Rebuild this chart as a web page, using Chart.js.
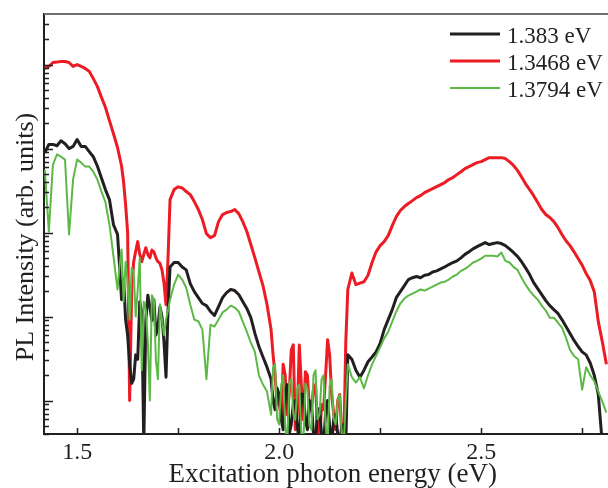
<!DOCTYPE html>
<html>
<head>
<meta charset="utf-8">
<title>PL Intensity</title>
<script src="https://cdn.jsdelivr.net/npm/chart.js@4.4.1/dist/chart.umd.min.js"></script>
<style>
  body { margin: 0; background: #fff; }
  canvas { display: block; }
</style>
</head>
<body>
<canvas id="grafico" width="608" height="488"></canvas>
<script>
// Energía de excitación (eV), común a las tres series.
// Paso más fino en las zonas ruidosas.
const energias = [
  1.42, 1.43, 1.44, 1.45, 1.46, 1.47, 1.48, 1.49, 1.50, 1.51,
  1.52, 1.53, 1.54, 1.55, 1.56, 1.57, 1.58, 1.59,
  1.60, 1.605, 1.61, 1.615, 1.62, 1.625, 1.63, 1.635, 1.64, 1.645,
  1.65, 1.655, 1.66, 1.665, 1.67, 1.675, 1.68, 1.685, 1.69, 1.695,
  1.70, 1.705, 1.71, 1.715, 1.72, 1.725,
  1.73, 1.74, 1.75, 1.76, 1.77, 1.78, 1.79, 1.80, 1.81,
  1.82, 1.83, 1.84, 1.85, 1.86, 1.87, 1.88, 1.89, 1.90, 1.91,
  1.92, 1.93, 1.94, 1.95, 1.96, 1.97,
  1.98, 1.985, 1.99, 1.995, 2.00, 2.005, 2.01, 2.015, 2.02, 2.025,
  2.03, 2.035, 2.04, 2.045, 2.05, 2.055, 2.06, 2.065, 2.07, 2.075,
  2.08, 2.085, 2.09, 2.095, 2.10, 2.105, 2.11, 2.115, 2.12, 2.125,
  2.13, 2.135, 2.14, 2.145, 2.15, 2.155, 2.16, 2.165,
  2.17, 2.18, 2.19, 2.20, 2.21,
  2.22, 2.23, 2.24, 2.25, 2.26, 2.27, 2.28, 2.29, 2.30, 2.31,
  2.32, 2.33, 2.34, 2.35, 2.36, 2.37, 2.38, 2.39, 2.40, 2.41,
  2.42, 2.43, 2.44, 2.45, 2.46, 2.47, 2.48, 2.49, 2.50, 2.51,
  2.52, 2.53, 2.54, 2.55, 2.56, 2.57, 2.58, 2.59, 2.60, 2.61,
  2.62, 2.63, 2.64, 2.65, 2.66, 2.67, 2.68, 2.69, 2.70, 2.71,
  2.72, 2.73, 2.74, 2.75, 2.76, 2.77, 2.78, 2.79, 2.80, 2.81
];

// Intensidad PL detectada a 1.383 eV
const pl1383 = [
  89, 112, 112, 108, 124, 114, 100, 106, 128, 106,
  106, 92, 80, 62, 45, 32.5, 24.7, 12.4,
  9.5, 4.0, 1.59, 2.8, 0.92, 0.6, 0.27, 0.16, 0.18, 0.35,
  0.31, 1.5, 1.12, 0.03, 0.9, 1.8, 1.31, 0.9, 1.59, 0.6,
  0.76, 1.3, 1.0, 0.5, 0.19, 1.2,
  3.9, 4.4, 4.4, 3.9, 3.6, 2.47, 1.98, 1.68, 1.43,
  1.35, 1.15, 1.03, 1.31, 1.68, 1.93, 2.1, 2.04, 1.83, 1.51,
  1.25, 0.97, 0.63, 0.44, 0.33, 0.25,
  0.18, 0.1, 0.078, 0.14, 0.118, 0.06, 0.045, 0.13, 0.155, 0.04,
  0.052, 0.09, 0.1, 0.05, 0.03, 0.12, 0.118, 0.06, 0.045, 0.1,
  0.09, 0.04, 0.03, 0.08, 0.078, 0.04, 0.03, 0.07, 0.1, 0.05,
  0.03, 0.06, 0.068, 0.04, 0.03, 0.05, 0.052, 0.03,
  0.35, 0.31, 0.23, 0.19, 0.23,
  0.29, 0.33, 0.38, 0.48, 0.7, 0.92, 1.21, 1.68, 1.98, 2.34,
  2.76, 2.9, 3.0, 2.9, 3.1, 3.16, 3.4, 3.5, 3.7, 3.9,
  4.16, 4.4, 4.6, 5.0, 5.5, 5.9, 6.4, 6.8, 7.2, 7.6,
  7.2, 7.4, 7.6, 7.4, 7.0, 6.4, 5.8, 5.2, 4.5, 3.8,
  3.16, 2.54, 2.15, 1.83, 1.55, 1.35, 1.21, 1.09, 0.92, 0.76,
  0.63, 0.52, 0.44, 0.38, 0.35, 0.28, 0.2, 0.118, 0.03, 0.03
];

// Intensidad PL detectada a 1.3468 eV
const pl13468 = [
  900, 950, 1060, 1070, 1090, 1090, 1060, 950, 1000, 950,
  900, 830, 680, 550, 410, 310, 215, 150,
  103, 80, 62, 40, 21.5, 10, 0.1, 2.0, 4.5, 6,
  7.8, 5.5, 4.5, 5.5, 6.6, 5.5, 5.0, 6.2, 5.9, 5.0,
  4.5, 4.3, 3.6, 2.5, 1.39, 5,
  24.7, 32.5, 35, 34, 30.8, 28.3, 23.4, 18.8, 14.3,
  9.7, 8.7, 9.2, 13.5, 16.4, 17.3, 17.8, 18.8, 16.8, 13.5,
  10.3, 7.2, 5.0, 3.4, 2.34, 1.39,
  0.7, 0.35, 0.2, 0.09, 0.1, 0.06, 0.27, 0.2, 0.068, 0.12,
  0.4, 0.46, 0.045, 0.07, 0.46, 0.15, 0.059, 0.22, 0.2, 0.08,
  0.078, 0.14, 0.155, 0.05, 0.03, 0.09, 0.078, 0.2, 0.53, 0.35,
  0.118, 0.07, 0.045, 0.1, 0.118, 0.04, 0.03, 0.5,
  2.1, 3.3, 2.4, 2.5, 2.6,
  3.1, 4.4, 5.9, 7.0, 7.8, 9.2, 12.1, 15.5, 18.3, 20.4,
  22.2, 24, 26.1, 27.5, 29.9, 31.6, 33.4, 35.3, 37.3, 39.4,
  42.8, 45.2, 49, 53, 57.8, 61, 64.5, 68, 70, 74,
  78, 78, 78, 78, 76, 70, 63, 55, 46, 38,
  32.5, 27.5, 22.8, 18.8, 16.4, 15.1, 13.5, 11.5, 9.5, 8.0,
  7.0, 5.9, 4.9, 4.1, 3.25, 2.68, 1.98, 0.87, 0.5, 0.27
];

// Intensidad PL detectada a 1.3794 eV
const pl13794 = [
  56, 10.3, 64, 85, 80, 74, 9.5, 43, 74, 68,
  61, 61, 53, 43, 31, 23, 12.4, 5.2,
  2.1, 4, 6.3, 1.5, 4.5, 2.5, 0.92, 3.8, 3.4, 1.0,
  2.1, 5.0, 0.23, 1.5, 1.21, 0.5, 0.1, 1.8, 1.59, 0.3,
  0.18, 1.4, 0.92, 0.6, 0.92, 1.2,
  1.59, 2.4, 3.16, 2.76, 2.2, 1.39, 0.92, 0.88, 0.7,
  0.18, 0.8, 0.76, 0.92, 1.12, 1.21, 1.35, 1.28, 1.15, 0.87,
  0.66, 0.49, 0.38, 0.2, 0.155, 0.128,
  0.068, 0.25, 0.27, 0.06, 0.052, 0.15, 0.2, 0.05, 0.03, 0.16,
  0.18, 0.07, 0.059, 0.14, 0.155, 0.04, 0.03, 0.16, 0.135, 0.05,
  0.045, 0.2, 0.23, 0.06, 0.068, 0.18, 0.2, 0.05, 0.03, 0.15,
  0.18, 0.06, 0.052, 0.1, 0.118, 0.04, 0.03, 0.1,
  0.27, 0.19, 0.164, 0.19, 0.14,
  0.2, 0.27, 0.34, 0.43, 0.55, 0.66, 0.87, 1.15, 1.43, 1.64,
  1.78, 1.88, 1.98, 2.1, 2.04, 2.15, 2.27, 2.4, 2.54, 2.6,
  2.76, 3.0, 3.16, 3.5, 3.7, 4.0, 4.4, 4.6, 4.9, 5.3,
  5.3, 5.3, 5.2, 5.8, 4.6, 4.4, 3.9, 3.6, 2.9, 2.4,
  2.04, 1.78, 1.59, 1.35, 1.18, 0.97, 0.97, 0.85, 0.74, 0.56,
  0.4, 0.34, 0.31, 0.135, 0.25, 0.2, 0.17, 0.128, 0.097, 0.072
];

const leyendas = ['1.383 eV', '1.3468 eV', '1.3794 eV'];
const colores = ['#231f20', '#ed1c24', '#5cb946'];

// Marcas del eje X y sus etiquetas
const marcasX = [1.5, 1.75, 2.0, 2.25, 2.5, 2.75];
const etiquetasX = ['1.5', '', '2.0', '', '2.5', ''];

// Marcas del eje Y (log): décadas largas, intermedias cortas
const decadasY = [0.1, 1, 10, 100, 1000];
const marcasY = [];
[0.01, 0.1, 1, 10, 100, 1000].forEach(d => {
  for (let k = 1; k <= 9; k++) {
    const v = +(d * k).toPrecision(2);
    if (v >= 0.04 && v < 4000) marcasY.push(v);
  }
});

const fuente = "'Liberation Serif', 'DejaVu Serif', serif";

function serie(valores) {
  return valores.map((v, i) => ({ x: energias[i], y: v }));
}

// Dibuja marcas hacia dentro, borde superior y leyenda
const adornos = {
  id: 'adornos',
  afterDraw(chart) {
    const { ctx, chartArea: a, scales: { x, y } } = chart;
    ctx.save();
    ctx.strokeStyle = '#231f20';
    ctx.lineWidth = 1.5;
    ctx.beginPath();
    marcasY.forEach(v => {
      const py = Math.round(y.getPixelForValue(v)) + 0.5;
      const largo = decadasY.includes(v) ? 9 : 5;
      ctx.moveTo(a.left, py);
      ctx.lineTo(a.left + largo, py);
    });
    marcasX.forEach(v => {
      const px = Math.round(x.getPixelForValue(v)) + 0.5;
      ctx.moveTo(px, a.bottom);
      ctx.lineTo(px, a.bottom - 6);
    });
    ctx.stroke();

    ctx.strokeStyle = '#6d6e70';
    ctx.lineWidth = 2;
    ctx.beginPath();
    ctx.moveTo(a.left, a.top);
    ctx.lineTo(a.right, a.top);
    ctx.stroke();

    // leyenda
    ctx.font = '23px ' + fuente;
    ctx.textBaseline = 'alphabetic';
    ctx.fillStyle = '#231f20';
    chart.data.datasets.forEach((ds, i) => {
      const ly = 34 + i * 27;
      ctx.strokeStyle = ds.borderColor;
      ctx.lineWidth = ds.borderWidth;
      ctx.beginPath();
      ctx.moveTo(450, ly);
      ctx.lineTo(500, ly);
      ctx.stroke();
      ctx.fillText(ds.label, 507, ly + 9);
    });
    ctx.restore();
  }
};

const ctx = document.getElementById('grafico').getContext('2d');

new Chart(ctx, {
  type: 'line',
  data: {
    datasets: [
      { label: leyendas[0], data: serie(pl1383), borderColor: colores[0], borderWidth: 3, order: 1 },
      { label: leyendas[1], data: serie(pl13468), borderColor: colores[1], borderWidth: 3, order: 2 },
      { label: leyendas[2], data: serie(pl13794), borderColor: colores[2], borderWidth: 2, order: 0 }
    ]
  },
  options: {
    responsive: false,
    animation: false,
    layout: { padding: { top: 14, right: 0, bottom: 0, left: 0 } },
    elements: { point: { radius: 0 }, line: { tension: 0, borderJoinStyle: 'round' } },
    plugins: { legend: { display: false }, tooltip: { enabled: false } },
    scales: {
      x: {
        type: 'linear',
        min: 1.418,
        max: 2.814,
        afterFit: s => { s.height = 54; },
        afterBuildTicks: s => { s.ticks = marcasX.map(v => ({ value: v })); },
        ticks: {
          autoSkip: false,
          maxRotation: 0,
          padding: 4,
          color: '#231f20',
          font: { family: fuente, size: 24 },
          callback: (v, i) => etiquetasX[i]
        },
        grid: { display: false, drawTicks: false },
        border: { color: '#231f20', width: 2 },
        title: {
          display: true,
          text: '  Excitation photon energy (eV)',
          color: '#231f20',
          font: { family: fuente, size: 27 },
          padding: { top: 0, bottom: -3 }
        }
      },
      y: {
        type: 'logarithmic',
        min: 0.04,
        max: 4000,
        afterFit: s => { s.width = 44; },
        ticks: { display: false },
        grid: { display: false, drawTicks: false },
        border: { color: '#231f20', width: 2 },
        title: {
          display: true,
          text: 'PL Intensity (arb. units)    ',
          color: '#231f20',
          font: { family: fuente, size: 26 },
          padding: { top: 11, bottom: 0 }
        }
      }
    }
  },
  plugins: [adornos]
});
</script>
</body>
</html>
